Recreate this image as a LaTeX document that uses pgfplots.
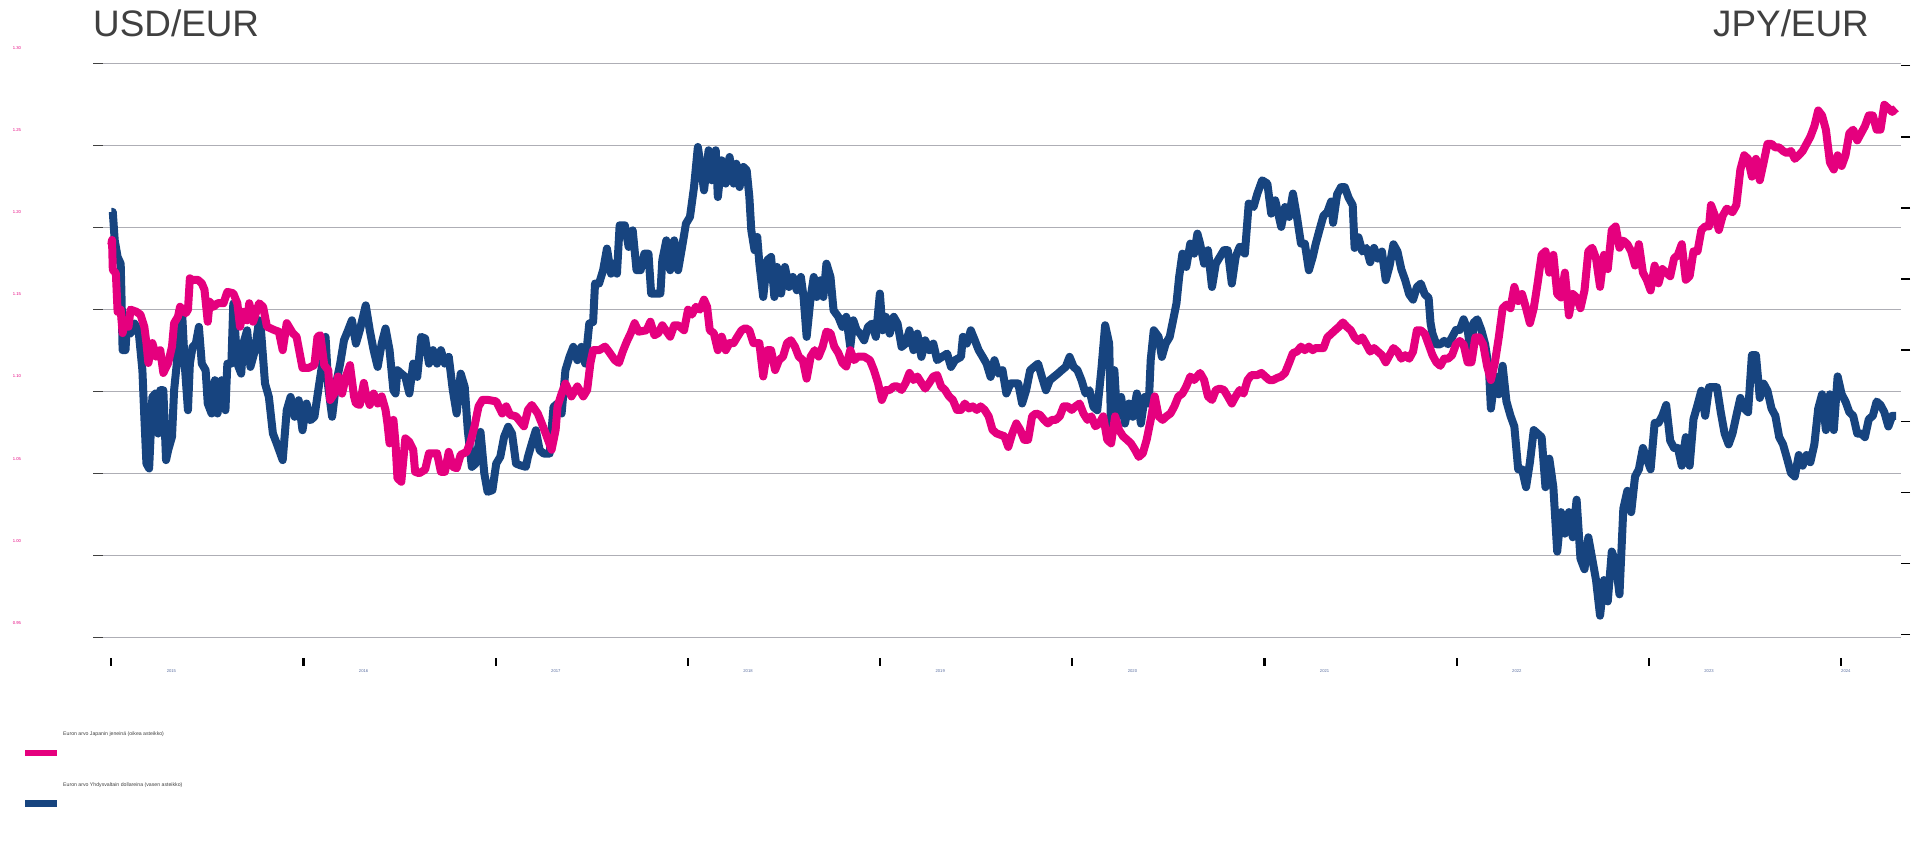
\documentclass[border=0pt]{standalone}
\usepackage{fontspec}
\setmainfont{Liberation Sans}
\usepackage{pgfplots}
\pgfplotsset{compat=1.18}

\definecolor{fipink}{HTML}{E5007E}
\definecolor{fiblue}{HTML}{17447F}
\definecolor{gridgray}{HTML}{AEAEB5}
\definecolor{titlegray}{HTML}{404040}
\definecolor{yearblue}{HTML}{5A6EA0}
\newcommand{\tinyfont}{\fontsize{4.2}{5}\selectfont}

\begin{document}
\begin{tikzpicture}[x=1bp,y=1bp]

% titles
\node[anchor=base west, inner sep=0, text=titlegray, font=\fontsize{37}{40}\selectfont] at (93,812.3) {USD/EUR};
\node[anchor=base east, inner sep=0, text=titlegray, font=\fontsize{37}{40}\selectfont] at (1869,812.3) {JPY/EUR};

% left axis: euro in US dollars
\begin{axis}[
    at={(93bp,211.3bp)}, anchor=south west,
    scale only axis, width=1808bp, height=574.4bp,
    xmin=2014.905, xmax=2024.312,
    ymin=0.95, ymax=1.30,
    axis line style={draw=none},
    xtick=\empty,
    ytick={0.95,1.00,1.05,1.10,1.15,1.20,1.25,1.30},
    ytick pos=left, tick align=inside, major tick length=10bp,
    ytick style={draw=black!75, line width=1.5bp},
    ymajorgrids, grid style={draw=gridgray, line width=1.4bp},
    /pgf/number format/assume math mode=true,
    yticklabel style={text=fipink, font=\tinyfont, anchor=center, xshift=-76bp, yshift=15bp,
        /pgf/number format/fixed, /pgf/number format/fixed zerofill, /pgf/number format/precision=2},
]
\addplot[fiblue, line width=8bp, line join=round, mark=none] coordinates {
(2015.000,1.2094)(2015.008,1.2094)(2015.018,1.1921)(2015.033,1.1820)(2015.049,1.1779)(2015.053,1.1597)(2015.059,1.1252)(2015.074,1.1252)(2015.080,1.1373)(2015.100,1.1353)(2015.121,1.1414)(2015.142,1.1373)(2015.152,1.1252)(2015.162,1.1130)(2015.172,1.0846)(2015.183,1.0561)(2015.197,1.0531)(2015.214,1.0967)(2015.230,1.0988)(2015.244,1.0744)(2015.255,1.1008)(2015.271,1.1008)(2015.285,1.0582)(2015.296,1.0642)(2015.316,1.0724)(2015.327,1.1008)(2015.341,1.1170)(2015.353,1.1455)(2015.368,1.1495)(2015.382,1.1170)(2015.399,1.0886)(2015.409,1.1170)(2015.423,1.1272)(2015.440,1.1292)(2015.456,1.1394)(2015.471,1.1170)(2015.491,1.1130)(2015.502,1.0927)(2015.522,1.0866)(2015.539,1.1069)(2015.553,1.0866)(2015.574,1.1069)(2015.594,1.0886)(2015.604,1.1170)(2015.625,1.1170)(2015.635,1.1536)(2015.656,1.1170)(2015.676,1.1109)(2015.687,1.1292)(2015.707,1.1373)(2015.724,1.1150)(2015.748,1.1252)(2015.769,1.1434)(2015.779,1.1373)(2015.800,1.1049)(2015.820,1.0967)(2015.841,1.0744)(2015.861,1.0683)(2015.892,1.0582)(2015.913,1.0886)(2015.933,1.0967)(2015.954,1.0846)(2015.975,1.0947)(2015.995,1.0764)(2016.016,1.0927)(2016.036,1.0825)(2016.057,1.0846)(2016.077,1.1008)(2016.098,1.1170)(2016.115,1.1333)(2016.129,1.1028)(2016.149,1.0846)(2016.170,1.1049)(2016.191,1.1170)(2016.211,1.1313)(2016.232,1.1373)(2016.252,1.1434)(2016.273,1.1292)(2016.293,1.1373)(2016.324,1.1525)(2016.345,1.1373)(2016.365,1.1252)(2016.386,1.1150)(2016.407,1.1292)(2016.427,1.1384)(2016.448,1.1252)(2016.468,1.1008)(2016.479,1.0988)(2016.489,1.1130)(2016.509,1.1109)(2016.530,1.1089)(2016.551,1.0988)(2016.571,1.1170)(2016.592,1.1089)(2016.612,1.1333)(2016.633,1.1323)(2016.653,1.1170)(2016.674,1.1252)(2016.695,1.1170)(2016.715,1.1252)(2016.736,1.1170)(2016.756,1.1211)(2016.777,1.1008)(2016.797,1.0866)(2016.818,1.1109)(2016.839,1.1028)(2016.855,1.0764)(2016.876,1.0541)(2016.896,1.0561)(2016.921,1.0754)(2016.941,1.0500)(2016.958,1.0389)(2016.983,1.0399)(2017.003,1.0561)(2017.024,1.0602)(2017.044,1.0724)(2017.065,1.0785)(2017.085,1.0744)(2017.106,1.0561)(2017.127,1.0551)(2017.157,1.0541)(2017.168,1.0602)(2017.188,1.0683)(2017.209,1.0764)(2017.229,1.0642)(2017.250,1.0622)(2017.281,1.0622)(2017.301,1.0906)(2017.322,1.0927)(2017.343,1.0866)(2017.363,1.1130)(2017.384,1.1211)(2017.404,1.1272)(2017.425,1.1191)(2017.446,1.1272)(2017.466,1.1170)(2017.487,1.1414)(2017.507,1.1424)(2017.517,1.1658)(2017.538,1.1658)(2017.559,1.1739)(2017.579,1.1871)(2017.600,1.1718)(2017.616,1.1779)(2017.631,1.1718)(2017.645,1.2013)(2017.672,1.2013)(2017.692,1.1881)(2017.713,1.1982)(2017.733,1.1739)(2017.754,1.1739)(2017.774,1.1840)(2017.795,1.1840)(2017.809,1.1597)(2017.836,1.1597)(2017.857,1.1597)(2017.867,1.1800)(2017.888,1.1921)(2017.908,1.1739)(2017.929,1.1921)(2017.949,1.1739)(2017.970,1.1881)(2017.990,1.2023)(2018.011,1.2064)(2018.032,1.2246)(2018.052,1.2490)(2018.073,1.2327)
(2018.084,1.2226)(2018.094,1.2327)(2018.108,1.2470)(2018.125,1.2287)(2018.145,1.2470)(2018.156,1.2185)(2018.176,1.2409)(2018.197,1.2267)(2018.217,1.2429)(2018.238,1.2267)(2018.252,1.2388)(2018.269,1.2246)(2018.289,1.2368)(2018.306,1.2348)(2018.320,1.2185)(2018.330,1.1982)(2018.347,1.1861)(2018.361,1.1942)(2018.372,1.1779)(2018.392,1.1576)(2018.413,1.1800)(2018.433,1.1820)(2018.450,1.1576)(2018.464,1.1759)(2018.485,1.1597)(2018.505,1.1759)(2018.526,1.1637)(2018.546,1.1698)(2018.567,1.1617)(2018.588,1.1698)(2018.602,1.1576)(2018.618,1.1333)(2018.639,1.1576)(2018.655,1.1698)(2018.670,1.1576)(2018.690,1.1678)(2018.705,1.1576)(2018.721,1.1779)(2018.742,1.1698)(2018.758,1.1495)(2018.783,1.1455)(2018.804,1.1394)(2018.824,1.1455)(2018.845,1.1272)(2018.861,1.1434)(2018.878,1.1373)(2018.896,1.1353)(2018.917,1.1312)(2018.937,1.1394)(2018.958,1.1414)(2018.978,1.1333)(2018.999,1.1597)(2019.013,1.1373)(2019.030,1.1455)(2019.050,1.1353)(2019.071,1.1455)(2019.091,1.1414)(2019.112,1.1272)(2019.133,1.1292)(2019.153,1.1373)(2019.174,1.1252)(2019.194,1.1353)(2019.215,1.1211)(2019.235,1.1312)(2019.256,1.1252)(2019.277,1.1292)(2019.297,1.1191)(2019.322,1.1211)(2019.349,1.1231)(2019.369,1.1150)(2019.390,1.1191)(2019.421,1.1211)(2019.431,1.1333)(2019.451,1.1292)(2019.472,1.1373)(2019.493,1.1312)(2019.513,1.1252)(2019.534,1.1211)(2019.554,1.1170)(2019.575,1.1089)(2019.595,1.1191)(2019.616,1.1109)(2019.637,1.1130)(2019.657,1.0988)(2019.678,1.1049)(2019.698,1.1049)(2019.719,1.1049)(2019.739,1.0927)(2019.760,1.1008)(2019.781,1.1130)(2019.801,1.1150)(2019.822,1.1170)(2019.842,1.1089)(2019.863,1.1008)(2019.883,1.1069)(2019.904,1.1089)(2019.925,1.1109)(2019.945,1.1130)(2019.966,1.1150)(2019.986,1.1211)(2020.007,1.1150)(2020.027,1.1130)(2020.048,1.1069)(2020.069,1.0988)(2020.089,1.1008)(2020.110,1.0906)(2020.130,1.0886)(2020.151,1.1130)(2020.171,1.1404)(2020.192,1.1292)(2020.202,1.0764)(2020.219,1.1130)(2020.233,1.0846)(2020.254,1.0967)(2020.274,1.0805)(2020.295,1.0927)(2020.315,1.0846)(2020.336,1.0988)(2020.357,1.0805)(2020.377,1.0967)(2020.398,1.0927)(2020.408,1.1191)(2020.424,1.1373)(2020.449,1.1333)(2020.466,1.1211)(2020.486,1.1292)(2020.507,1.1333)(2020.521,1.1414)(2020.542,1.1536)(2020.556,1.1698)(2020.573,1.1840)(2020.593,1.1759)(2020.614,1.1901)(2020.634,1.1840)(2020.651,1.1962)(2020.665,1.1901)(2020.686,1.1779)(2020.706,1.1861)(2020.727,1.1637)(2020.747,1.1779)(2020.768,1.1820)(2020.789,1.1861)(2020.809,1.1861)(2020.830,1.1658)(2020.850,1.1820)(2020.871,1.1881)(2020.898,1.1840)(2020.918,1.2145)(2020.943,1.2124)(2020.963,1.2206)(2020.988,1.2287)(2021.015,1.2267)(2021.035,1.2084)(2021.056,1.2165)(2021.087,1.2003)(2021.107,1.2124)(2021.128,1.2064)(2021.148,1.2206)(2021.169,1.2064)(2021.190,1.1901)(2021.210,1.1901)(2021.231,1.1739)(2021.251,1.1820)
(2021.266,1.1897)(2021.286,1.1984)(2021.307,1.2071)(2021.327,1.2093)(2021.347,1.2158)(2021.357,1.2028)(2021.378,1.2202)(2021.398,1.2245)(2021.418,1.2245)(2021.438,1.2180)(2021.459,1.2136)(2021.469,1.1875)(2021.489,1.1940)(2021.509,1.1853)(2021.530,1.1875)(2021.550,1.1788)(2021.570,1.1875)(2021.590,1.1810)(2021.611,1.1853)(2021.631,1.1679)(2021.651,1.1766)(2021.671,1.1897)(2021.692,1.1853)(2021.712,1.1745)(2021.732,1.1679)(2021.753,1.1592)(2021.773,1.1560)(2021.793,1.1636)(2021.813,1.1658)(2021.834,1.1592)(2021.854,1.1571)(2021.864,1.1418)(2021.874,1.1353)(2021.894,1.1288)(2021.915,1.1288)(2021.935,1.1309)(2021.955,1.1288)(2021.976,1.1331)(2021.996,1.1375)(2022.016,1.1375)(2022.036,1.1440)(2022.057,1.1375)(2022.077,1.1201)(2022.087,1.1418)(2022.107,1.1440)(2022.128,1.1375)(2022.148,1.1288)(2022.168,1.1135)(2022.178,1.0896)(2022.199,1.1092)(2022.219,1.0983)(2022.239,1.1157)(2022.259,1.0939)(2022.280,1.0852)(2022.300,1.0787)(2022.320,1.0526)(2022.340,1.0526)(2022.361,1.0417)(2022.381,1.0569)(2022.401,1.0765)(2022.421,1.0744)(2022.442,1.0722)(2022.462,1.0417)(2022.482,1.0591)(2022.503,1.0417)(2022.523,1.0025)(2022.543,1.0265)(2022.563,1.0134)(2022.584,1.0265)(2022.604,1.0112)(2022.624,1.0341)(2022.644,0.9982)(2022.665,0.9917)(2022.685,1.0112)(2022.705,0.9982)(2022.725,0.9851)(2022.746,0.9634)(2022.766,0.9851)(2022.786,0.9721)(2022.807,1.0025)(2022.827,0.9960)(2022.847,0.9764)(2022.867,1.0286)(2022.888,1.0395)(2022.908,1.0265)(2022.928,1.0482)(2022.948,1.0526)(2022.969,1.0656)(2022.989,1.0591)(2023.009,1.0526)(2023.030,1.0809)(2023.050,1.0809)(2023.070,1.0852)(2023.090,1.0918)(2023.111,1.0700)(2023.131,1.0656)(2023.151,1.0656)(2023.171,1.0548)(2023.192,1.0722)(2023.212,1.0548)(2023.232,1.0831)(2023.253,1.0918)(2023.273,1.1005)(2023.293,1.0852)(2023.313,1.1026)(2023.334,1.1026)(2023.354,1.1026)(2023.374,1.0874)(2023.394,1.0744)(2023.415,1.0678)(2023.435,1.0744)(2023.455,1.0852)(2023.476,1.0961)(2023.496,1.0896)(2023.516,1.0874)(2023.536,1.1222)(2023.557,1.1222)(2023.577,1.0961)(2023.597,1.1048)(2023.617,1.1005)(2023.638,1.0896)(2023.658,1.0852)(2023.678,1.0722)(2023.698,1.0678)(2023.719,1.0591)(2023.739,1.0504)(2023.759,1.0482)(2023.780,1.0613)(2023.800,1.0548)(2023.820,1.0613)(2023.840,1.0569)(2023.861,1.0678)(2023.881,1.0896)(2023.901,1.0983)(2023.921,1.0765)(2023.942,1.0983)(2023.962,1.0765)(2023.982,1.1092)(2024.003,1.0983)(2024.023,1.0939)(2024.043,1.0874)(2024.063,1.0852)(2024.084,1.0744)(2024.104,1.0744)(2024.124,1.0722)(2024.144,1.0831)(2024.165,1.0852)(2024.185,1.0939)(2024.205,1.0918)(2024.225,1.0874)(2024.246,1.0787)(2024.266,1.0852)(2024.286,1.0852)
};
\end{axis}

% right axis: euro in Japanese yen
\begin{axis}[
    at={(93bp,211.3bp)}, anchor=south west,
    scale only axis, width=1808bp, height=574.4bp,
    xmin=2014.905, xmax=2024.312,
    ymin=89.578, ymax=170.337,
    axis line style={draw=none},
    xtick=\empty,
    ytick={90,100,110,120,130,140,150,160,170}, yticklabels={},
    ytick pos=right, tick align=outside, major tick length=9bp,
    ytick style={draw=black, line width=1.5bp},
]
\addplot[fipink, line width=8bp, line join=round, mark=none] coordinates {
(2015.000,144.8)(2015.004,145.5)(2015.008,141.3)(2015.024,140.8)(2015.033,135.4)(2015.049,135.7)(2015.059,132.4)(2015.070,133.8)(2015.090,133.3)(2015.100,135.7)(2015.131,135.4)(2015.152,135.0)(2015.172,133.3)(2015.183,131.0)(2015.193,128.2)(2015.214,131.0)(2015.234,129.1)(2015.255,130.0)(2015.271,126.8)(2015.296,128.2)(2015.316,130.5)(2015.327,133.8)(2015.347,134.7)(2015.358,136.1)(2015.388,135.2)(2015.399,135.7)(2015.409,140.1)(2015.419,139.9)(2015.450,139.9)(2015.471,139.4)(2015.485,138.5)(2015.502,134.0)(2015.512,136.8)(2015.532,136.1)(2015.553,136.6)(2015.584,136.6)(2015.604,138.2)(2015.635,138.0)(2015.656,136.6)(2015.670,133.3)(2015.687,135.4)(2015.707,134.2)(2015.718,136.6)(2015.738,134.0)(2015.769,136.6)(2015.790,136.1)(2015.810,133.3)(2015.851,132.8)(2015.872,132.6)(2015.892,130.0)(2015.913,133.8)(2015.944,132.4)(2015.964,131.9)(2015.995,127.5)(2016.026,127.5)(2016.057,127.9)(2016.073,131.9)(2016.088,132.1)(2016.108,127.9)(2016.129,127.2)(2016.139,123.0)(2016.160,123.9)(2016.180,126.3)(2016.201,123.9)(2016.221,126.3)(2016.242,127.9)(2016.263,123.5)(2016.273,122.5)(2016.293,122.3)(2016.314,125.4)(2016.324,123.9)(2016.345,122.3)(2016.365,123.9)(2016.386,122.5)(2016.407,123.5)(2016.427,121.6)(2016.437,119.7)(2016.448,116.9)(2016.468,120.2)(2016.479,116.9)(2016.489,112.0)(2016.509,111.5)(2016.530,117.6)(2016.551,117.1)(2016.571,116.0)(2016.581,112.9)(2016.602,112.7)(2016.633,113.2)(2016.653,115.5)(2016.695,115.5)(2016.715,112.9)(2016.736,112.9)(2016.756,115.7)(2016.777,113.6)(2016.797,113.4)(2016.818,115.3)(2016.849,115.7)(2016.869,117.1)(2016.890,119.3)(2016.911,122.1)(2016.931,123.0)(2016.962,123.0)(2017.003,122.8)(2017.034,121.1)(2017.055,122.1)(2017.075,120.9)(2017.106,120.7)(2017.147,119.3)(2017.168,121.6)(2017.188,122.3)(2017.219,121.1)(2017.240,119.7)(2017.260,118.3)(2017.291,116.0)(2017.312,118.8)(2017.322,122.1)(2017.343,123.9)(2017.363,125.3)(2017.394,123.5)(2017.425,124.9)(2017.456,123.5)(2017.476,124.4)(2017.493,128.2)(2017.507,130.0)(2017.538,130.0)(2017.569,130.5)(2017.589,129.8)(2017.620,128.6)(2017.641,128.2)(2017.661,129.8)(2017.682,131.2)(2017.703,132.4)(2017.723,133.8)(2017.744,132.6)(2017.785,132.8)(2017.805,134.0)(2017.826,132.1)(2017.846,132.4)(2017.867,133.5)(2017.908,131.9)(2017.929,133.5)(2017.949,133.5)(2017.980,132.8)(2018.001,135.7)(2018.021,135.0)(2018.042,136.1)(2018.063,135.7)
(2018.084,137.1)(2018.100,136.1)(2018.114,132.8)(2018.135,132.4)(2018.156,130.0)(2018.176,131.9)(2018.197,130.0)(2018.217,131.0)(2018.238,131.0)(2018.258,131.9)(2018.279,132.8)(2018.300,133.1)(2018.320,132.8)(2018.341,131.0)(2018.372,131.0)(2018.392,126.3)(2018.413,130.0)(2018.433,130.0)(2018.454,127.2)(2018.474,128.6)(2018.495,129.1)(2018.516,131.0)(2018.536,131.4)(2018.557,130.5)(2018.577,129.1)(2018.598,128.6)(2018.618,126.0)(2018.639,129.1)(2018.660,130.0)(2018.680,129.1)(2018.701,130.5)(2018.721,132.6)(2018.742,132.4)(2018.762,130.5)(2018.783,129.6)(2018.804,128.2)(2018.824,127.7)(2018.845,130.0)(2018.865,128.6)(2018.886,129.1)(2018.917,129.1)(2018.947,128.6)(2018.968,127.2)(2018.989,125.4)(2019.009,123.0)(2019.030,124.4)(2019.050,124.4)(2019.071,124.9)(2019.091,124.9)(2019.112,124.4)(2019.133,125.4)(2019.153,126.8)(2019.174,125.8)(2019.194,126.3)(2019.215,125.4)(2019.235,124.6)(2019.256,125.4)(2019.277,126.3)(2019.297,126.5)(2019.318,124.9)(2019.338,124.4)(2019.359,123.5)(2019.379,123.0)(2019.400,121.6)(2019.421,121.6)(2019.441,122.5)(2019.462,121.8)(2019.482,122.1)(2019.503,121.6)(2019.523,122.1)(2019.544,121.6)(2019.565,120.7)(2019.585,118.8)(2019.606,118.3)(2019.626,118.1)(2019.647,117.9)(2019.667,116.4)(2019.688,118.3)(2019.709,119.7)(2019.729,118.8)(2019.750,117.4)(2019.770,117.4)(2019.791,120.7)(2019.811,121.1)(2019.832,120.9)(2019.853,120.2)(2019.873,119.7)(2019.894,120.2)(2019.914,120.2)(2019.935,120.7)(2019.955,122.1)(2019.976,122.1)(2019.997,121.6)(2020.017,122.1)(2020.038,122.5)(2020.058,121.1)(2020.079,120.2)(2020.099,120.7)(2020.120,119.3)(2020.141,119.7)(2020.161,120.7)(2020.182,117.4)(2020.202,116.9)(2020.223,120.7)(2020.243,118.8)(2020.264,117.9)(2020.285,117.4)(2020.305,116.9)(2020.326,116.0)(2020.346,115.0)(2020.367,115.5)(2020.387,117.4)(2020.408,120.2)(2020.429,123.5)(2020.449,120.7)(2020.470,120.2)(2020.490,120.7)(2020.511,121.1)(2020.531,122.1)(2020.552,123.5)(2020.573,123.9)(2020.593,124.9)(2020.614,126.3)(2020.634,125.8)(2020.665,126.8)(2020.686,125.8)(2020.706,123.5)(2020.727,123.0)(2020.747,124.4)(2020.768,124.6)(2020.789,124.4)(2020.809,123.5)(2020.830,122.5)(2020.850,123.5)(2020.871,124.4)(2020.891,123.9)(2020.912,125.8)(2020.932,126.5)(2020.963,126.5)(2020.984,126.8)(2021.004,126.3)(2021.025,125.8)(2021.045,125.8)(2021.066,126.1)(2021.087,126.3)(2021.107,126.8)(2021.128,128.2)(2021.148,129.6)(2021.169,129.8)(2021.190,130.5)(2021.210,130.0)(2021.231,130.5)(2021.251,130.0)
(2021.266,130.3)(2021.286,130.3)(2021.307,130.3)(2021.327,131.8)(2021.347,132.3)(2021.367,132.8)(2021.388,133.3)(2021.408,133.9)(2021.428,133.3)(2021.449,132.8)(2021.469,131.8)(2021.489,131.3)(2021.509,131.8)(2021.530,130.8)(2021.550,129.8)(2021.570,130.3)(2021.590,129.8)(2021.611,129.3)(2021.631,128.3)(2021.651,129.3)(2021.671,130.3)(2021.692,129.8)(2021.712,128.8)(2021.732,129.3)(2021.753,128.8)(2021.773,129.8)(2021.793,132.8)(2021.813,132.8)(2021.834,132.3)(2021.854,130.8)(2021.874,129.3)(2021.894,128.3)(2021.915,127.8)(2021.935,128.8)(2021.955,128.8)(2021.976,129.3)(2021.996,130.8)(2022.016,131.3)(2022.036,130.8)(2022.057,128.3)(2022.077,128.3)(2022.097,131.8)(2022.117,131.8)(2022.138,130.8)(2022.158,127.8)(2022.178,125.8)(2022.199,128.3)(2022.219,131.8)(2022.239,135.9)(2022.259,136.4)(2022.280,135.9)(2022.300,138.9)(2022.320,136.9)(2022.340,137.9)(2022.361,135.9)(2022.381,133.8)(2022.401,135.9)(2022.421,139.4)(2022.442,143.4)(2022.462,143.9)(2022.482,140.9)(2022.503,143.4)(2022.523,137.9)(2022.543,137.4)(2022.563,140.9)(2022.584,134.9)(2022.604,137.9)(2022.624,137.4)(2022.644,135.9)(2022.665,138.4)(2022.685,143.9)(2022.705,144.4)(2022.725,142.9)(2022.746,138.9)(2022.766,143.4)(2022.786,141.4)(2022.807,146.9)(2022.827,147.4)(2022.847,144.4)(2022.867,145.4)(2022.888,144.9)(2022.908,143.9)(2022.928,141.9)(2022.948,144.9)(2022.969,140.9)(2022.989,139.9)(2023.009,138.4)(2023.030,141.9)(2023.050,139.4)(2023.070,141.4)(2023.090,140.9)(2023.111,140.4)(2023.131,142.9)(2023.151,143.4)(2023.171,144.9)(2023.192,139.9)(2023.212,140.4)(2023.232,143.9)(2023.253,143.9)(2023.273,146.9)(2023.293,147.4)(2023.313,147.4)(2023.323,150.4)(2023.344,148.9)(2023.364,146.9)(2023.384,148.9)(2023.405,149.9)(2023.435,149.4)(2023.455,150.4)(2023.476,155.4)(2023.496,157.4)(2023.516,156.9)(2023.536,154.4)(2023.557,156.9)(2023.577,153.9)(2023.597,156.4)(2023.617,159.0)(2023.638,159.0)(2023.658,158.5)(2023.678,158.5)(2023.698,158.0)(2023.719,157.7)(2023.739,158.0)(2023.759,156.9)(2023.780,157.4)(2023.800,158.0)(2023.820,159.0)(2023.840,160.0)(2023.861,161.5)(2023.881,163.7)(2023.901,163.0)(2023.921,161.0)(2023.942,156.4)(2023.962,155.4)(2023.982,157.4)(2024.003,155.9)(2024.023,157.4)(2024.043,160.5)(2024.063,161.0)(2024.084,159.5)(2024.104,160.5)(2024.124,161.5)(2024.144,163.0)(2024.165,163.0)(2024.185,161.0)(2024.205,161.0)(2024.225,164.5)(2024.246,164.0)(2024.266,163.5)(2024.286,164.0)
};
\end{axis}

% year ticks and labels, set below the plot area
\begin{axis}[
    at={(93bp,191bp)}, anchor=south west,
    scale only axis, width=1808bp, height=1bp,
    xmin=2014.905, xmax=2024.312, ymin=0, ymax=1,
    axis line style={draw=none},
    ytick=\empty,
    xtick={2015,2016,2017,2018,2019,2020,2021,2022,2023,2024}, xticklabels={},
    xtick pos=bottom, tick align=outside, major tick length=8bp,
    xtick style={draw=black, line width=2.2bp},
    extra x ticks={2015.313,2016.313,2017.313,2018.313,2019.313,2020.313,2021.313,2022.313,2023.313,2024.025},
    extra x tick labels={2015,2016,2017,2018,2019,2020,2021,2022,2023,2024},
    extra x tick style={xtick style={draw=none}, major tick length=0pt,
        xticklabel style={text=yearblue, font=\tinyfont, anchor=center, yshift=-13bp}},
]
\end{axis}

% legend
\node[anchor=west, inner sep=0, text=titlegray, font=\fontsize{5.2}{6}\selectfont] at (63,114.7) {Euron arvo Japanin jeneinä (oikea asteikko)};
\fill[fipink] (25,92.7) rectangle (57,99.3);
\node[anchor=west, inner sep=0, text=titlegray, font=\fontsize{5.2}{6}\selectfont] at (63,64) {Euron arvo Yhdysvaltain dollareina (vasen asteikko)};
\fill[fiblue] (25,41.7) rectangle (57,48.7);

\pgfresetboundingbox
\path (0,0) rectangle (1918,849);
\end{tikzpicture}
\end{document}
